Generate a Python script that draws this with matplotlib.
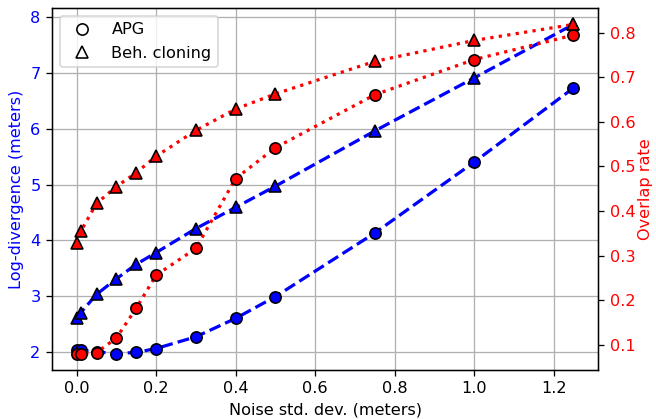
import numpy as np
import matplotlib
matplotlib.use('Agg')
import matplotlib.pyplot as plt
from matplotlib.lines import Line2D

# noise levels (meters)
noise = [0.0, 0.01, 0.05, 0.1, 0.15, 0.2, 0.3, 0.4, 0.5, 0.75, 1.0, 1.25]

# log-divergence (left axis)
apg_div = [2.04, 2.03, 2.00, 1.97, 1.99, 2.06, 2.27, 2.60, 2.99, 4.13, 5.40, 6.73]
bc_div = [2.61, 2.70, 3.03, 3.31, 3.57, 3.78, 4.21, 4.59, 4.97, 5.96, 6.91, 7.87]

# overlap rate (right axis)
apg_overlap = [0.08, 0.08, 0.082, 0.115, 0.182, 0.256, 0.316, 0.473, 0.542, 0.661, 0.740, 0.795]
bc_overlap = [0.328, 0.354, 0.417, 0.455, 0.486, 0.523, 0.581, 0.629, 0.663, 0.736, 0.783, 0.819]

DPI = 116
fig, ax = plt.subplots(figsize=(656 / DPI, 419 / DPI), dpi=DPI)
fig.subplots_adjust(left=0.079, right=0.912, top=0.981, bottom=0.117)

mk = dict(markersize=7, markeredgecolor='k', markeredgewidth=1)

ax.plot(noise, apg_div, '--', color='b', lw=2, marker='o', markerfacecolor='b', **mk)
ax.plot(noise, bc_div, '--', color='b', lw=2, marker='^', markerfacecolor='b', **mk)
ax.set_xlabel('Noise std. dev. (meters)')
ax.set_ylabel('Log-divergence (meters)', color='b')
ax.tick_params(axis='y', labelcolor='b')
ax.grid(True)

ax2 = ax.twinx()
ax2.plot(noise, apg_overlap, ':', color='r', lw=2, marker='o', markerfacecolor='r', **mk)
ax2.plot(noise, bc_overlap, ':', color='r', lw=2, marker='^', markerfacecolor='r', **mk)
ax2.set_ylabel('Overlap rate', color='r', labelpad=2)
ax2.tick_params(axis='y', labelcolor='r')

ax.set_xticks(np.arange(0, 1.21, 0.2))

handles = [
    Line2D([], [], ls='none', marker='o', markerfacecolor='none', markeredgecolor='k', markersize=7),
    Line2D([], [], ls='none', marker='^', markerfacecolor='none', markeredgecolor='k', markersize=7),
]
ax.legend(handles, ['APG', 'Beh. cloning'], loc='upper left')

plt.savefig('out.png', dpi=DPI)
